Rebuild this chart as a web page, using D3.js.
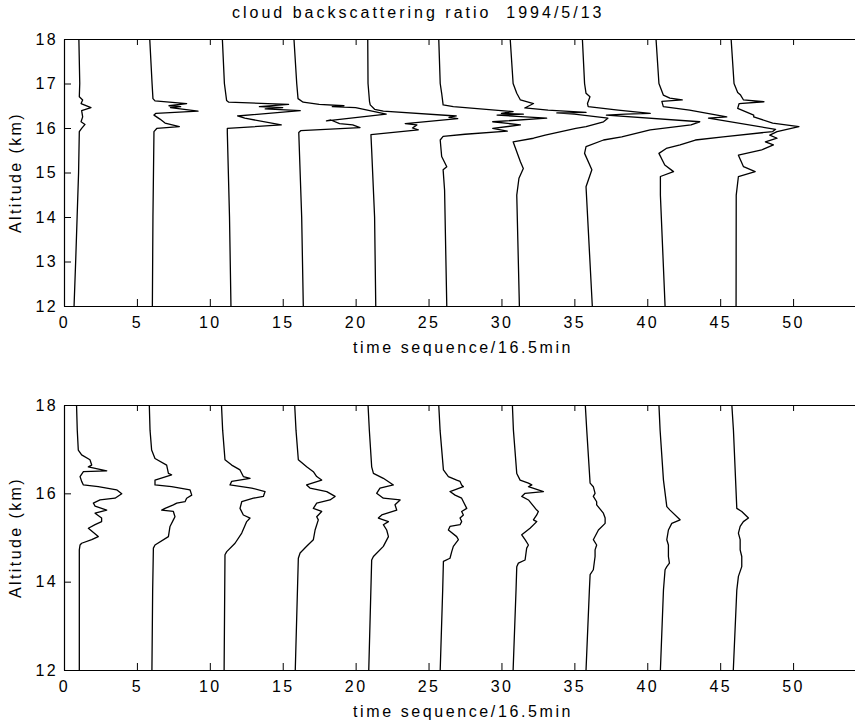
<!DOCTYPE html>
<html>
<head>
<meta charset="utf-8">
<script src="https://cdn.jsdelivr.net/npm/d3@7"></script>
<style>
body { margin: 0; background: #fff; }
svg { display: block; }
text { font-family: "Liberation Sans", Arial, sans-serif; fill: #000; }
</style>
</head>
<body>
<svg width="855" height="723"></svg>
<script>
// tick values
const timeTicks = [0, 5, 10, 15, 20, 25, 30, 35, 40, 45, 50];
const altTicksTop = [12, 13, 14, 15, 16, 17, 18];
const altTicksBottom = [12, 14, 16, 18];

// each profile: [altitude km, position on the time-sequence axis]
const upperProfiles = [
	[[18,1.02],[17,1.08],[16.70,1.05],[16.63,1.28],[16.55,1.17],[16.46,1.85],[16.39,1.21],[16.25,1.28],[16.14,1.17],[16.08,1.44],[15.99,1.21],[15.92,1.05],[15,1.0],[14,0.9],[13,0.8],[12,0.69]],
	[[18,5.88],[17,6.04],[16.66,6.1],[16.61,6.24],[16.55,8.41],[16.50,7.2],[16.48,8.0],[16.46,7.3],[16.38,9.19],[16.33,6.31],[16.29,6.17],[16.20,6.58],[16.11,6.93],[16.03,7.91],[15.99,6.36],[15.92,6.17],[14,6.1],[12,6.06]],
	[[18,10.86],[17,11.0],[16.62,11.15],[16.58,11.3],[16.53,15.4],[16.48,13.4],[16.46,15.0],[16.43,13.8],[16.39,16.2],[16.27,11.9],[16.22,12.4],[16.07,14.9],[15.99,11.2],[15.9,11.2],[14,11.35],[12,11.45]],
	[[18,15.77],[17,15.96],[16.66,16.05],[16.58,16.4],[16.53,17.5],[16.50,19.2],[16.48,18.4],[16.46,20.0],[16.31,22.1],[16.16,18.0],[16.18,18.3],[16.10,18.9],[16.07,19.8],[16.01,20.3],[15.94,16.23],[15.9,16.1],[14,16.3],[12,16.41]],
	[[18,20.83],[17,20.85],[16.6,20.95],[16.52,21.0],[16.42,21.3],[16.38,21.9],[16.27,26.9],[16.24,26.4],[16.21,27.0],[16.10,23.4],[16.07,24.2],[16.00,23.9],[15.96,24.3],[15.85,21.05],[15.5,21.1],[14,21.3],[12,21.38]],
	[[18,25.7],[17,25.8],[16.78,25.9],[16.52,26.0],[16.48,26.7],[16.37,30.8],[16.33,30.0],[16.31,31.5],[16.29,29.7],[16.22,33.1],[16.14,29.4],[16.07,31.3],[15.99,29.4],[15.93,30.4],[15.86,27.5],[15.81,26.0],[15.73,25.8],[15.36,25.9],[15.13,26.25],[15.06,26.0],[14.6,26.1],[12,26.25]],
	[[18,30.6],[17,30.8],[16.78,31.05],[16.63,31.3],[16.55,32.2],[16.45,31.6],[16.40,33.2],[16.35,35.8],[16.34,33.8],[16.31,35.0],[16.22,37.3],[16.14,37.0],[16.03,35.8],[15.99,35.1],[15.84,33.0],[15.77,32.2],[15.69,30.8],[15.24,31.3],[15.09,31.5],[14.87,31.2],[14.49,31.05],[12,31.23]],
	[[18,35.55],[17,35.7],[16.78,35.8],[16.70,36.07],[16.55,35.9],[16.48,35.95],[16.40,38.0],[16.33,40.2],[16.31,38.5],[16.29,37.2],[16.14,43.6],[16.07,43.0],[15.96,40.2],[15.80,38.25],[15.73,37.0],[15.58,35.8],[15.43,35.7],[15.06,36.2],[14.68,35.8],[12,36.23]],
	[[18,40.6],[17,40.8],[16.74,41.1],[16.67,41.55],[16.63,42.4],[16.60,41.0],[16.48,41.1],[16.40,42.9],[16.25,45.45],[16.22,44.2],[15.97,48.8],[15.92,48.6],[15.80,45.2],[15.73,43.3],[15.62,42.25],[15.54,41.3],[15.43,40.8],[15.17,41.2],[15.02,41.8],[14.91,40.9],[14.49,40.9],[12,41.22]],
	[[18,45.75],[17,45.95],[16.8,46.2],[16.74,46.4],[16.63,46.6],[16.59,48.0],[16.55,46.3],[16.44,46.2],[16.29,47.3],[16.25,47.3],[16.11,48.6],[16.03,50.4],[15.92,48.9],[15.84,48.4],[15.77,48.9],[15.69,48.1],[15.62,48.65],[15.51,47.85],[15.39,46.25],[15.13,46.6],[15.02,47.4],[14.91,46.25],[14.49,46.1],[12,46.09]]
];

const lowerProfiles = [
	[[18,0.86],[17.43,0.91],[16.98,0.98],[16.87,1.21],[16.76,1.78],[16.64,1.90],[16.60,1.67],[16.51,2.93],[16.49,1.33],[16.38,1.10],[16.27,1.21],[16.19,1.33],[16.15,2.35],[16.08,3.61],[15.99,3.96],[15.89,3.50],[15.85,2.47],[15.78,2.01],[15.71,2.13],[15.62,2.93],[15.55,2.13],[15.44,2.58],[15.36,2.58],[15.29,2.13],[15.21,1.67],[15.02,2.35],[14.95,1.90],[14.87,1.21],[14.83,1.10],[14.72,1.05],[12,1.05]],
	[[18,5.85],[17.43,5.90],[16.98,6.01],[16.79,6.24],[16.64,7.04],[16.45,7.16],[16.42,7.38],[16.30,6.24],[16.19,6.24],[16.15,7.38],[16.08,8.64],[15.96,8.76],[15.89,8.41],[15.81,8.30],[15.78,7.73],[15.74,7.50],[15.66,6.93],[15.62,6.70],[15.59,7.50],[15.47,7.61],[15.40,7.50],[15.25,7.27],[15.02,7.16],[14.83,6.24],[14.76,6.13],[13.8,6.08],[12,6.03]],
	[[18,10.8],[17.43,10.88],[16.76,11.04],[16.64,11.50],[16.53,12.07],[16.38,12.30],[16.34,12.76],[16.27,11.50],[16.19,11.38],[16.12,12.87],[16.04,13.79],[15.93,13.67],[15.89,12.99],[15.81,12.19],[15.66,12.07],[15.51,12.30],[15.44,12.76],[15.36,12.53],[15.10,12.19],[14.87,11.73],[14.68,11.16],[14.61,11.04],[12,10.98]],
	[[18,15.82],[17.43,15.91],[16.76,16.07],[16.60,16.64],[16.49,17.10],[16.38,17.33],[16.30,17.67],[16.19,16.64],[16.12,16.87],[16.04,18.02],[15.93,18.59],[15.85,18.24],[15.78,17.33],[15.66,17.10],[15.59,17.67],[15.47,17.33],[15.40,17.44],[15.17,17.22],[14.95,17.10],[14.80,16.64],[14.65,16.19],[14.53,16.07],[12,15.86]],
	[[18,20.85],[17.43,20.94],[16.60,21.10],[16.45,21.22],[16.34,21.90],[16.19,22.59],[16.12,21.67],[16.00,21.44],[15.89,21.90],[15.85,23.05],[15.74,22.70],[15.62,22.82],[15.51,21.79],[15.44,21.56],[15.36,22.25],[15.29,21.90],[15.17,22.13],[15.02,22.25],[14.80,21.90],[14.57,21.22],[14.49,21.10],[12,20.9]],
	[[18,25.7],[17.43,25.79],[16.53,26.02],[16.38,26.36],[16.30,26.93],[16.27,27.16],[16.19,27.27],[16.15,27.39],[16.04,26.47],[15.96,26.82],[15.89,27.27],[15.81,27.39],[15.66,27.62],[15.59,27.27],[15.51,27.39],[15.44,27.16],[15.36,27.27],[15.29,27.16],[15.25,26.47],[15.17,26.36],[15.02,26.93],[14.95,27.05],[14.80,26.70],[14.68,26.59],[14.53,26.47],[14.46,26.02],[13.81,25.97],[12,25.8]],
	[[18,30.75],[17.43,30.82],[16.45,31.05],[16.30,31.28],[16.23,31.85],[16.19,32.08],[16.15,31.85],[16.04,32.88],[16.00,31.62],[15.93,31.39],[15.85,31.85],[15.62,32.42],[15.59,32.53],[15.51,32.42],[15.40,32.19],[15.36,32.42],[15.21,31.96],[15.06,31.39],[14.95,31.62],[14.83,31.85],[14.76,31.73],[14.49,31.62],[14.42,31.16],[14.34,31.05],[13.81,31.0],[12,30.8]],
	[[18,35.75],[17.43,35.85],[16.23,36.08],[16.15,36.30],[16.00,36.42],[15.93,36.30],[15.81,36.53],[15.74,36.53],[15.55,36.99],[15.44,37.11],[15.32,37.11],[15.17,36.65],[14.95,36.30],[14.83,36.53],[14.72,36.42],[14.57,36.42],[14.27,36.30],[14.16,36.08],[13.81,36.03],[12,35.8]],
	[[18,40.8],[17.43,40.88],[16.30,41.11],[15.70,41.34],[15.62,41.56],[15.40,42.25],[15.32,41.68],[15.17,41.45],[14.95,41.34],[14.83,41.45],[14.57,41.45],[14.42,41.52],[14.34,41.34],[14.27,41.22],[13.81,41.11],[12,40.9]],
	[[18,45.8],[17.43,45.91],[15.66,46.14],[15.59,46.48],[15.44,46.94],[15.36,46.59],[15.25,46.37],[15.10,46.25],[14.95,46.37],[14.72,46.37],[14.57,46.48],[14.34,46.48],[14.12,46.25],[13.81,46.14],[12,45.9]]
];

const svg = d3.select("svg");
const left = 64, right = 866;

const x = d3.scaleLinear().domain([0, 55]).range([left, right]);

svg.append("text")
	.attr("x", 232)
	.attr("y", 18)
	.attr("font-size", 16)
	.attr("letter-spacing", 3)
	.style("white-space", "pre")
	.text("cloud backscattering ratio  1994/5/13");

drawPanel(upperProfiles, altTicksTop, 39, 306);
drawPanel(lowerProfiles, altTicksBottom, 405, 670);

function drawPanel(profiles, yTicks, top, bottom) {
	const y = d3.scaleLinear().domain([12, 18]).range([bottom, top]);
	const g = svg.append("g");

	const line = d3.line()
		.x(d => x(d[1]))
		.y(d => y(d[0]));

	g.append("g")
		.selectAll("path")
		.data(profiles)
		.join("path")
		.attr("d", line)
		.attr("fill", "none")
		.attr("stroke", "#000")
		.attr("stroke-width", 1.3)
		.attr("stroke-linejoin", "round");

	g.append("g")
		.attr("transform", `translate(0,${bottom})`)
		.call(d3.axisBottom(x).tickValues(timeTicks).tickSize(-7).tickSizeOuter(0).tickPadding(11));
	g.append("g")
		.attr("transform", `translate(0,${top})`)
		.call(d3.axisTop(x).tickValues(timeTicks).tickSize(-6).tickSizeOuter(0).tickFormat(""));
	g.append("g")
		.attr("transform", `translate(${left},0)`)
		.call(d3.axisLeft(y).tickValues(yTicks).tickFormat(d3.format("d")).tickSize(-7).tickSizeOuter(0).tickPadding(6));

	g.selectAll(".domain").attr("stroke", "#000").attr("stroke-width", 1.2);
	g.selectAll(".tick line").attr("stroke", "#000");
	g.selectAll(".tick text")
		.attr("font-size", 16)
		.attr("letter-spacing", 2.4)
		.attr("font-family", "\"Liberation Sans\", Arial, sans-serif");

	g.append("text")
		.attr("x", 353)
		.attr("y", bottom + 47)
		.attr("font-size", 16)
		.attr("letter-spacing", 2.6)
		.text("time sequence/16.5min");

	g.append("text")
		.attr("transform", `translate(21,${(top + bottom) / 2}) rotate(-90)`)
		.attr("text-anchor", "middle")
		.attr("font-size", 16)
		.attr("letter-spacing", 2.4)
		.text("Altitude (km)");
}
</script>
</body>
</html>
